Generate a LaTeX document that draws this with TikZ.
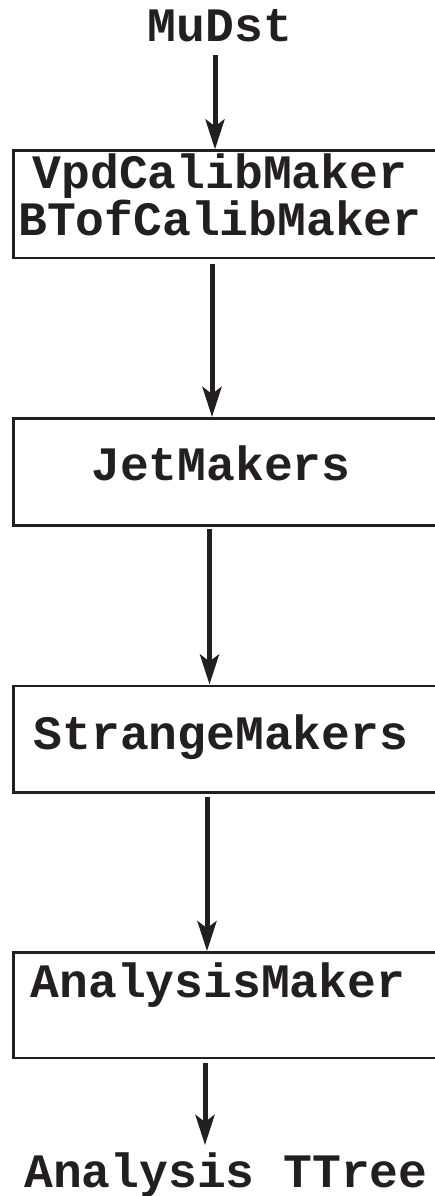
\documentclass[tikz,border=0pt]{standalone}
\usepackage{fontspec}
\setmainfont{Liberation Mono}
\usetikzlibrary{arrows.meta}
\definecolor{ink}{RGB}{35,31,32}
\begin{document}
\begin{tikzpicture}[x=1pt,y=-1pt,
  box/.style={draw=ink, line width=2.6pt, minimum width=426.7pt, inner sep=0pt},
  lbl/.style={text=ink, inner sep=0pt, font=\fontsize{48}{35.5}\selectfont\bfseries},
  arr/.style={draw=ink, line width=5pt, -{Stealth[length=30pt,width=19pt,inset=7pt]}}]
\useasboundingbox (0,0) rectangle (434,1196);
% boxes
\node[box, minimum height=107.3pt] (b1) at (226.65,204.35) {};
\node[box, minimum height=107pt]   (b2) at (226.65,471.8) {};
\node[box, minimum height=106.4pt] (b3) at (226.65,739) {};
\node[box, minimum height=105.5pt] (b4) at (226.65,1005.25) {};
% texts
\node[lbl, anchor=base] (mudst) at (220,42) {MuDst};
\node[lbl, anchor=base, align=center] (t1) at (220,235) {VpdCalibMaker\\BTofCalibMaker};
\node[lbl, anchor=base] (t2) at (221,480) {JetMakers};
\node[lbl, anchor=base] (t3) at (221,749) {StrangeMakers};
\node[lbl, anchor=base] (t4) at (218,997) {AnalysisMaker};
\node[lbl, anchor=base] (tree) at (226,1187) {Analysis TTree};
% arrows
\coordinate (s1) at (215,55);
\coordinate (s2) at (212,264);
\coordinate (s3) at (209.5,529);
\coordinate (s4) at (207,797);
\coordinate (s5) at (205,1063);
\coordinate (e5) at (205,1145);
\draw[arr] (s1) -- (s1 |- b1.north);
\draw[arr] (s2) -- (s2 |- b2.north);
\draw[arr] (s3) -- (s3 |- b3.north);
\draw[arr] (s4) -- (s4 |- b4.north);
\draw[arr] (s5) -- (e5);
\end{tikzpicture}
\end{document}
